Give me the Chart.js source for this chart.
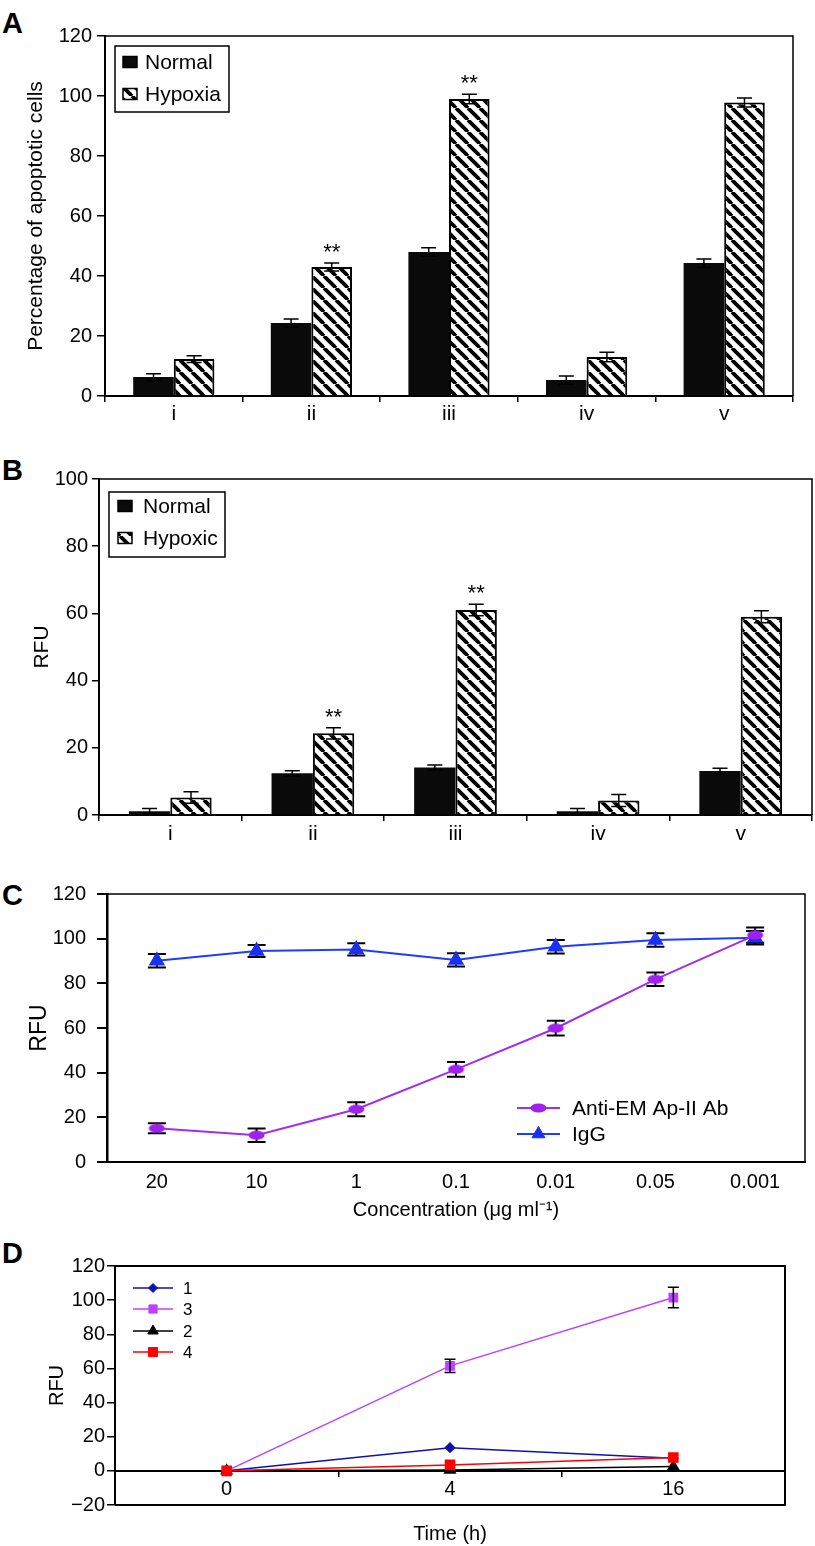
<!DOCTYPE html>
<html><head><meta charset="utf-8">
<script src="https://cdn.jsdelivr.net/npm/chart.js@4"></script>
<style>
html,body{margin:0;padding:0;background:#fff;}
body{width:815px;height:1546px;position:relative;overflow:hidden;font-family:'Liberation Sans',Arial,sans-serif;}
canvas{position:absolute;left:0;}
.lbl{position:absolute;left:2px;font-weight:bold;font-size:29px;line-height:1;color:#000;}
</style></head><body>
<div class="lbl" style="top:9px">A</div>
<div class="lbl" style="top:456px">B</div>
<div class="lbl" style="top:881px">C</div>
<div class="lbl" style="top:1239px">D</div>
<canvas id="cA" width="815" height="430" style="top:0px"></canvas>
<canvas id="cB" width="815" height="420" style="top:440px"></canvas>
<canvas id="cC" width="815" height="380" style="top:850px"></canvas>
<canvas id="cD" width="815" height="315" style="top:1235px"></canvas>
<script>
// ---------- DATA ----------
const groupLabels = ['i', 'ii', 'iii', 'iv', 'v'];
const apopNormal = [6.3, 24.3, 48, 5.3, 44.3];
const apopNormalErr = [1.1, 1.4, 1.4, 1.4, 1.4];
const apopHypoxia = [12.3, 43, 99, 13, 97.8];
const apopHypoxiaErr = [1.1, 1.3, 1.6, 1.6, 1.5];
const apopMarks = ['', '**', '**', '', ''];

const rfuNormal = [1.1, 12.4, 14.1, 1.1, 13.1];
const rfuNormalErr = [0.8, 0.8, 0.8, 0.8, 0.8];
const rfuHypoxic = [5.2, 24.3, 61, 4.3, 59];
const rfuHypoxicErr = [1.7, 1.7, 1.7, 1.8, 1.8];
const rfuMarks = ['', '**', '**', '', ''];

const concLabels = ['20', '10', '1', '0.1', '0.01', '0.05', '0.001'];
const antiEM = [15.1, 12, 23.6, 41.5, 59.9, 81.8, 101.6];
const antiEMErr = [2.2, 3, 3.1, 3.3, 3.3, 3, 3.4];
const igg = [90.1, 94.5, 95.2, 90.5, 96.4, 99.4, 100.4];
const iggErr = [3, 2.7, 2.7, 3, 3, 3, 3];

const timeLabels = ['0', '4', '16'];
const series1 = [0, 13.6, 7.4];
const series3 = [0, 61.5, 101.5];
const series3Err = [0, 3.9, 6];
const series2 = [0, 0.5, 2.5];
const series4 = [0, 3.5, 7.8];

// ---------- HELPERS ----------
const FAM = "'Liberation Sans', Arial, sans-serif";
Chart.defaults.font.family = FAM;
Chart.defaults.color = '#000';
Chart.defaults.animation = false;

function makeHatch() {
  const c = document.createElement('canvas'); c.width = 12; c.height = 12;
  const g = c.getContext('2d');
  g.fillStyle = '#fff'; g.fillRect(0, 0, 12, 12);
  g.strokeStyle = '#000'; g.lineWidth = 3.8;
  for (const o of [-12, 0, 12]) { g.beginPath(); g.moveTo(o, 0); g.lineTo(o + 12, 12); g.stroke(); }
  return g.createPattern(c, 'repeat');
}
const hatch = makeHatch();

function ellipseImg(color, w, h) {
  const c = document.createElement('canvas'); c.width = w; c.height = h;
  const g = c.getContext('2d'); g.fillStyle = color;
  g.beginPath(); g.ellipse(w / 2, h / 2, w / 2 - 0.5, h / 2 - 0.5, 0, 0, Math.PI * 2); g.fill();
  return c;
}
const purpleC = '#a22cf2', blueC = '#1f3cff';
const ellipse = ellipseImg('#a020f0', 17, 10);

function drawMarker(ctx, style, x, y, r, color) {
  ctx.save(); ctx.fillStyle = color; ctx.strokeStyle = color; ctx.lineWidth = 1;
  if (style instanceof HTMLCanvasElement) {
    ctx.drawImage(style, x - style.width / 2, y - style.height / 2);
  } else {
    ctx.beginPath();
    if (style === 'rect') { const s = Math.SQRT1_2 * r; ctx.rect(x - s, y - s, 2 * s, 2 * s); }
    else if (style === 'rectRot') { ctx.moveTo(x, y - r); ctx.lineTo(x + r, y); ctx.lineTo(x, y + r); ctx.lineTo(x - r, y); ctx.closePath(); }
    else if (style === 'triangle') {
      let a = 0; ctx.moveTo(x + Math.sin(a) * r, y - Math.cos(a) * r);
      a += 2 * Math.PI / 3; ctx.lineTo(x + Math.sin(a) * r, y - Math.cos(a) * r);
      a += 2 * Math.PI / 3; ctx.lineTo(x + Math.sin(a) * r, y - Math.cos(a) * r); ctx.closePath();
    } else { ctx.arc(x, y, r, 0, Math.PI * 2); }
    ctx.fill(); ctx.stroke();
  }
  ctx.restore();
}

function paintErrors(chart, opts) {
  const ctx = chart.ctx, ys = chart.scales.y;
  ctx.save();
  ctx.strokeStyle = '#000'; ctx.lineWidth = opts.lineWidth || 1.5;
  const cap = (opts.cap || 14) / 2;
  chart.data.datasets.forEach((ds, i) => {
    if (!ds.errors) return;
    const meta = chart.getDatasetMeta(i);
    meta.data.forEach((el, j) => {
      const e = ds.errors[j]; if (!e) return;
      const v = ds.data[j];
      const x = el.x, yt = ys.getPixelForValue(v + e), yb = ys.getPixelForValue(v - e);
      ctx.beginPath();
      ctx.moveTo(x, yt); ctx.lineTo(x, yb);
      ctx.moveTo(x - cap, yt); ctx.lineTo(x + cap, yt);
      ctx.moveTo(x - cap, yb); ctx.lineTo(x + cap, yb);
      ctx.stroke();
    });
  });
  ctx.restore();
}
const errorBars = {
  id: 'errorBars',
  beforeDatasetsDraw(chart, args, opts) { if (opts.behind) paintErrors(chart, opts); },
  afterDatasetsDraw(chart, args, opts) { if (!opts.behind) paintErrors(chart, opts); }
};

const sigMarks = {
  id: 'sigMarks',
  afterDatasetsDraw(chart) {
    const ctx = chart.ctx, ys = chart.scales.y;
    ctx.save(); ctx.fillStyle = '#000'; ctx.font = '22px ' + FAM;
    ctx.textAlign = 'center'; ctx.textBaseline = 'alphabetic';
    chart.data.datasets.forEach((ds, i) => {
      if (!ds.marks) return;
      const meta = chart.getDatasetMeta(i);
      meta.data.forEach((el, j) => {
        if (!ds.marks[j]) return;
        const top = ys.getPixelForValue(ds.data[j] + (ds.errors ? ds.errors[j] : 0));
        ctx.fillText(ds.marks[j], el.x, top - 4);
      });
    });
    ctx.restore();
  }
};

const frameBox = {
  id: 'frameBox',
  afterDraw(chart, args, opts) {
    const { left, right, top, bottom } = chart.chartArea, ctx = chart.ctx;
    ctx.save(); ctx.strokeStyle = '#000'; ctx.lineWidth = opts.lineWidth || 1.5;
    ctx.beginPath();
    ctx.moveTo(left, top); ctx.lineTo(right, top); ctx.lineTo(right, bottom);
    if (opts.bottom) ctx.lineTo(left, bottom);
    ctx.stroke(); ctx.restore();
  }
};

const customLegend = {
  id: 'customLegend',
  afterDraw(chart, args, o) {
    if (!o || !o.rows) return;
    const ctx = chart.ctx; ctx.save();
    if (o.box) {
      ctx.strokeStyle = '#000'; ctx.lineWidth = 1.5;
      ctx.fillStyle = '#fff';
      ctx.fillRect(o.box[0], o.box[1], o.box[2] - o.box[0], o.box[3] - o.box[1]);
      ctx.strokeRect(o.box[0], o.box[1], o.box[2] - o.box[0], o.box[3] - o.box[1]);
    }
    ctx.font = o.font; ctx.textBaseline = 'middle'; ctx.textAlign = 'left';
    chart.data.datasets.forEach((ds, i) => {
      const y = o.rows[i];
      if (o.type === 'swatch') {
        ctx.fillStyle = ds.backgroundColor;
        ctx.fillRect(o.sx, y - o.sh / 2, o.sw, o.sh);
        ctx.strokeStyle = '#000'; ctx.lineWidth = 1.5;
        ctx.strokeRect(o.sx, y - o.sh / 2, o.sw, o.sh);
      } else {
        ctx.strokeStyle = ds.borderColor; ctx.lineWidth = ds.borderWidth;
        ctx.beginPath(); ctx.moveTo(o.lx0, y); ctx.lineTo(o.lx1, y); ctx.stroke();
        drawMarker(ctx, ds.pointStyle, (o.lx0 + o.lx1) / 2, y, ds.pointRadius, ds.pointBackgroundColor);
      }
      ctx.fillStyle = '#000';
      ctx.fillText(ds.label, o.tx, y + 1);
    });
    ctx.restore();
  }
};

function fixW(w) { return s => { s.width = w; }; }
function fixH(h) { return s => { s.height = h; }; }

function barPanel(id, cfg) {
  return new Chart(document.getElementById(id), {
    type: 'bar',
    data: {
      labels: groupLabels,
      datasets: [
        { label: cfg.names[0], data: cfg.d0, errors: cfg.e0, backgroundColor: '#0a0a0a', borderWidth: 0,
          categoryPercentage: cfg.cp, barPercentage: 1.0 },
        { label: cfg.names[1], data: cfg.d1, errors: cfg.e1, marks: cfg.marks, backgroundColor: hatch,
          borderColor: '#000', borderWidth: 2, borderSkipped: 'bottom', categoryPercentage: cfg.cp, barPercentage: 1.0 }
      ]
    },
    options: {
      responsive: false,
      layout: { padding: { top: cfg.top, right: 815 - cfg.right, left: 0, bottom: 0 } },
      plugins: {
        legend: { display: false }, tooltip: { enabled: false },
        errorBars: { lineWidth: 1.5, cap: 15 },
        frameBox: { lineWidth: 1.5 },
        customLegend: cfg.legend
      },
      scales: {
        x: {
          afterFit: fixH(cfg.h - cfg.bottom),
          grid: { display: true, drawOnChartArea: false, drawTicks: true, tickLength: 6, color: '#000', lineWidth: 1.5, offset: true },
          border: { display: true, color: '#000', width: 2 },
          ticks: { color: '#000', font: { size: 21 }, padding: cfg.xpad }
        },
        y: {
          min: 0, max: cfg.max,
          afterFit: fixW(cfg.left),
          grid: { display: true, drawOnChartArea: false, drawTicks: true, tickLength: cfg.tl, color: '#000', lineWidth: 1.5 },
          border: { display: true, color: '#000', width: 2 },
          ticks: { stepSize: 20, color: '#000', font: { size: 20 }, padding: cfg.ypad },
          title: { display: true, text: cfg.ytitle, color: '#000', font: { size: 21 }, padding: { top: cfg.tpad, bottom: 0 } }
        }
      }
    },
    plugins: [errorBars, sigMarks, frameBox, customLegend]
  });
}

barPanel('cA', {
  names: ['Normal', 'Hypoxia'], d0: apopNormal, e0: apopNormalErr, d1: apopHypoxia, e1: apopHypoxiaErr, marks: apopMarks,
  cp: 0.59, top: 36, right: 793, left: 105, bottom: 396, h: 430, max: 120, tl: 8, ypad: 5, xpad: 0,
  ytitle: 'Percentage of apoptotic cells', tpad: 24,
  legend: { type: 'swatch', box: [115, 46, 229, 112], rows: [62, 94], sx: 123, sw: 14, sh: 11, tx: 145, font: '21px ' + FAM }
});

barPanel('cB', {
  names: ['Normal', 'Hypoxic'], d0: rfuNormal, e0: rfuNormalErr, d1: rfuHypoxic, e1: rfuHypoxicErr, marks: rfuMarks,
  cp: 0.58, top: 39, right: 812, left: 99, bottom: 375, h: 420, max: 100, tl: 7, ypad: 4, xpad: 1,
  ytitle: 'RFU', tpad: 30,
  legend: { type: 'swatch', box: [109, 52, 225, 117], rows: [66, 98], sx: 118, sw: 14, sh: 11, tx: 143, font: '21px ' + FAM }
});

// Panel C
new Chart(document.getElementById('cC'), {
  type: 'line',
  data: {
    labels: concLabels,
    datasets: [
      { label: 'Anti-EM Ap-II Ab', data: antiEM, errors: antiEMErr, borderColor: purpleC, borderWidth: 2,
        pointStyle: ellipse, pointRadius: 8, pointBackgroundColor: '#a020f0', pointBorderColor: '#a020f0', tension: 0 },
      { label: 'IgG', data: igg, errors: iggErr, borderColor: blueC, borderWidth: 2,
        pointStyle: 'triangle', pointRadius: 7.5, pointBackgroundColor: '#1a30f0', pointBorderColor: '#1a30f0', tension: 0 }
    ]
  },
  options: {
    responsive: false,
    layout: { padding: { top: 44, right: 5, left: 0, bottom: 0 } },
    plugins: {
      legend: { display: false }, tooltip: { enabled: false },
      errorBars: { lineWidth: 2, cap: 18, behind: true },
      frameBox: { lineWidth: 1.5 },
      customLegend: { type: 'line', rows: [258, 284], lx0: 517, lx1: 560, tx: 572, font: '21px ' + FAM }
    },
    scales: {
      x: {
        offset: true,
        afterFit: fixH(380 - 312),
        grid: { display: false },
        border: { display: true, color: '#000', width: 2 },
        ticks: { color: '#000', font: { size: 20 }, padding: 0 },
        title: { display: true, text: 'Concentration (\u03bcg ml\u207b\u00b9)', color: '#000', font: { size: 20 }, padding: { top: 0, bottom: 8 } }
      },
      y: {
        min: 0, max: 120,
        afterFit: fixW(107),
        grid: { display: true, drawOnChartArea: false, drawTicks: true, tickLength: 10, color: '#000', lineWidth: 2 },
        border: { display: true, color: '#000', width: 2.5 },
        ticks: { stepSize: 20, color: '#000', font: { size: 20 }, padding: 11 },
        title: { display: true, text: 'RFU', color: '#000', font: { size: 23 }, padding: { top: 26, bottom: 0 } }
      }
    }
  },
  plugins: [errorBars, frameBox, customLegend]
});

// Panel D
new Chart(document.getElementById('cD'), {
  type: 'line',
  data: {
    labels: timeLabels,
    datasets: [
      { label: '1', data: series1, borderColor: '#1010b0', borderWidth: 1.5, pointStyle: 'rectRot', pointRadius: 4.5,
        pointBackgroundColor: '#1010b0', pointBorderColor: '#1010b0', tension: 0, order: 3 },
      { label: '3', data: series3, errors: series3Err, borderColor: '#c040ff', borderWidth: 1.5, pointStyle: 'rect', pointRadius: 5.8,
        pointBackgroundColor: '#c040ff', pointBorderColor: '#c040ff', tension: 0, order: 2 },
      { label: '2', data: series2, borderColor: '#000', borderWidth: 1.5, pointStyle: 'triangle', pointRadius: 6,
        pointBackgroundColor: '#000', pointBorderColor: '#000', tension: 0, order: 1 },
      { label: '4', data: series4, borderColor: '#ff0000', borderWidth: 1.5, pointStyle: 'rect', pointRadius: 6.4,
        pointBackgroundColor: '#ff0000', pointBorderColor: '#ff0000', tension: 0, order: 0 }
    ]
  },
  options: {
    responsive: false,
    layout: { padding: { top: 31, right: 30, left: 0, bottom: 0 } },
    plugins: {
      legend: { display: false }, tooltip: { enabled: false },
      errorBars: { lineWidth: 1.5, cap: 11 },
      frameBox: { lineWidth: 2, bottom: true },
      customLegend: { type: 'line', rows: [53, 74, 96, 117], lx0: 133, lx1: 173, tx: 183, font: '17px ' + FAM }
    },
    scales: {
      x: {
        position: { y: 0 },
        offset: true,
        grid: { display: true, drawOnChartArea: false, drawTicks: true, tickLength: 5, color: '#000', lineWidth: 1.5, offset: true },
        border: { display: true, color: '#000', width: 2 },
        ticks: { color: '#000', font: { size: 20 }, padding: 2 }
      },
      x2: {
        type: 'category', position: 'bottom', offset: true,
        afterFit: fixH(315 - 270),
        grid: { display: false }, border: { display: false },
        ticks: { display: false },
        title: { display: true, text: 'Time (h)', color: '#000', font: { size: 20 }, padding: { top: 0, bottom: 4 } }
      },
      y: {
        min: -20, max: 120,
        afterFit: fixW(115),
        grid: { display: true, drawOnChartArea: false, drawTicks: true, tickLength: 8, color: '#000', lineWidth: 1.5 },
        border: { display: true, color: '#000', width: 2 },
        ticks: { stepSize: 20, color: '#000', font: { size: 20 }, padding: 2,
          callback: v => v < 0 ? '\u2212' + Math.abs(v) : String(v) },
        title: { display: true, text: 'RFU', color: '#000', font: { size: 20 }, padding: { top: 45, bottom: 0 } }
      }
    }
  },
  plugins: [errorBars, frameBox, customLegend]
});
</script>
</body></html>
